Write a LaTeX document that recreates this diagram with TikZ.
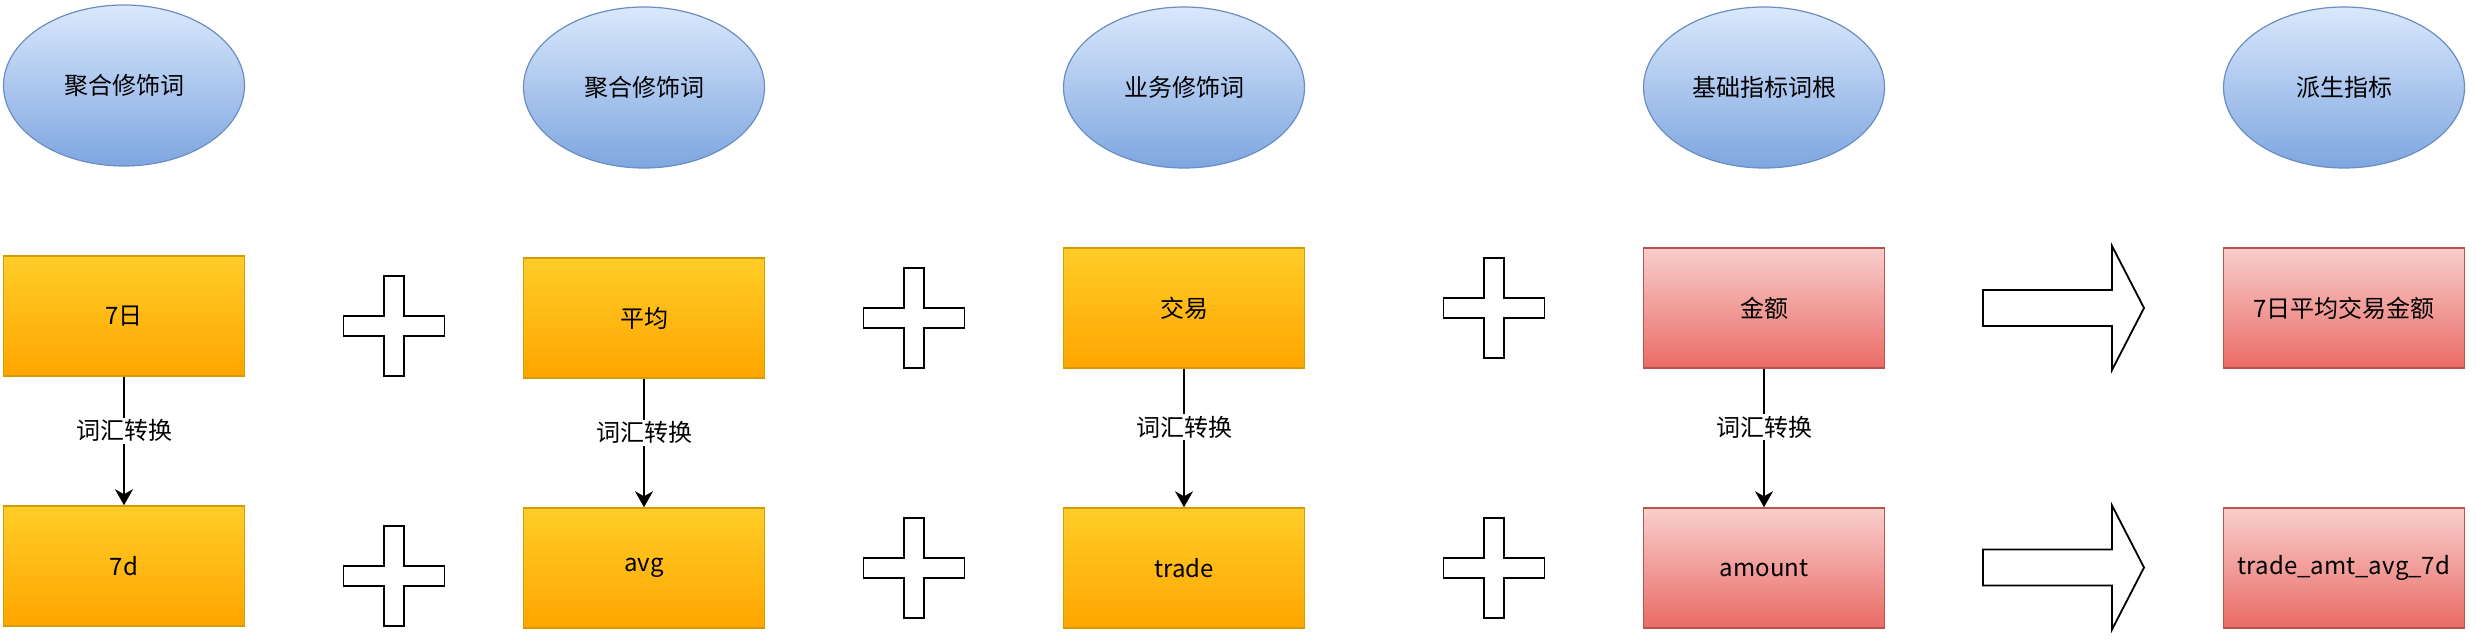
\documentclass[tikz,border=0pt]{standalone}
\usepackage{fontspec}
\setmainfont{Noto Sans CJK SC}
\usetikzlibrary{arrows.meta,shapes.geometric}

\begin{document}
\begin{tikzpicture}[
  x=0.5pt,y=-0.5pt,
  >=Stealth,
  font=\fontsize{12pt}{14pt}\selectfont,
  term/.style={ellipse,draw=termln,line width=0.6pt,top color=termtop,bottom color=termbot,
    minimum width=120.5pt,minimum height=80.5pt,inner sep=0pt},
  word/.style={draw=#1ln,line width=0.75pt,top color=#1top,bottom color=#1bot,
    minimum width=120.5pt,minimum height=60pt,inner sep=0pt},
  conv/.style={->,line width=0.7pt,>={Stealth[length=8pt,width=9pt,inset=2.5pt]}},
  lab/.style={fill=white,inner sep=1pt},
  bigsym/.style={draw=black,line width=0.9pt,fill=white,line join=miter}]

  \definecolor{termtop}{HTML}{DAE8FC}
  \definecolor{termbot}{HTML}{7EA6E0}
  \definecolor{termln}{HTML}{6C8EBF}
  \definecolor{ortop}{HTML}{FFCD28}
  \definecolor{orbot}{HTML}{FFA500}
  \definecolor{orln}{HTML}{D79B00}
  \definecolor{rdtop}{HTML}{F8CECC}
  \definecolor{rdbot}{HTML}{EA6B66}
  \definecolor{rdln}{HTML}{B85450}

  \useasboundingbox (0,0) rectangle (2476,640);

  % ---- headers ----
  \node[term] (hdA) at (124,85.5) {聚合修饰词};
  \node[term] (hdB) at (644,87.5) {聚合修饰词};
  \node[term] (hdC) at (1184,87.5) {业务修饰词};
  \node[term] (hdD) at (1764,87.5) {基础指标词根};
  \node[term] (hdE) at (2344,87.5) {派生指标};

  % ---- chinese words ----
  \node[word=or] (topA) at (124,316) {7日};
  \node[word=or] (topB) at (644,318) {平均};
  \node[word=or] (topC) at (1184,308) {交易};
  \node[word=rd] (topD) at (1764,308) {金额};
  \node[word=rd] (topE) at (2344,308) {7日平均交易金额};

  % ---- english words ----
  \node[word=or] (botA) at (124,566) {7d};
  \node[word=or] (botB) at (644,568) {avg};
  \node[word=or] (botC) at (1184,568) {trade};
  \node[word=rd] (botD) at (1764,568) {amount};
  \node[word=rd] (botE) at (2344,568) {trade\_amt\_avg\_7d};

  % ---- conversions ----
  \foreach \c in {A,B,C,D}
    \draw[conv] (top\c) -- (bot\c) node[lab,pos=0.42] {词汇转换};

  % ---- plus signs ----
  \foreach \cx/\cy in {394/326,914/318,1494/308,394/576,914/568,1494/568}
    \draw[bigsym,shift={(\cx,\cy)}] (-10,-50) -- (10,-50) -- (10,-10) -- (50.5,-10)
      -- (50.5,10) -- (10,10) -- (10,50) -- (-10,50) -- (-10,10) -- (-50.5,10)
      -- (-50.5,-10) -- (-10,-10) -- cycle;

  % ---- result arrows ----
  \foreach \cy in {308,567.5}
    \draw[bigsym,shift={(0,\cy)}] (1983,-18) -- (2112,-18) -- (2112,-62) -- (2144,0)
      -- (2112,62) -- (2112,18) -- (1983,18) -- cycle;
\end{tikzpicture}
\end{document}
